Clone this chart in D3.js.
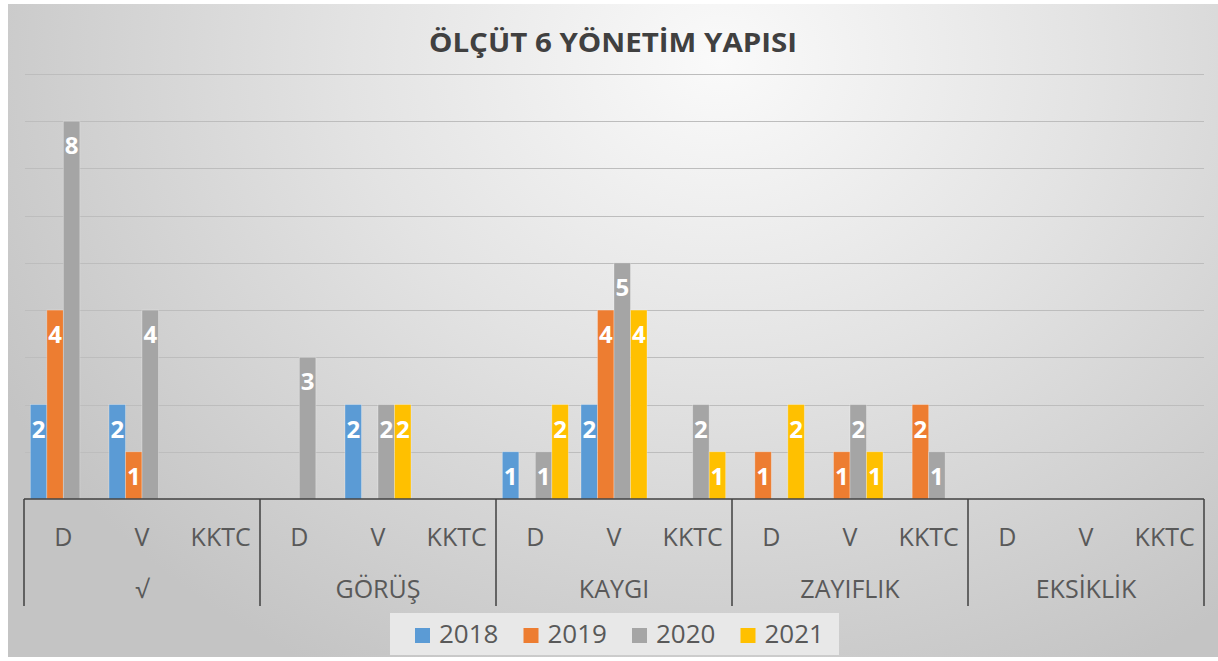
<!DOCTYPE html>
<html>
<head>
<meta charset="utf-8">
<script src="https://cdn.jsdelivr.net/npm/d3@7"></script>
<style>
    html, body { margin: 0; padding: 0; background: #fff; }
    svg { display: block; font-family: "Open Sans", sans-serif; }
</style>
</head>
<body>
<svg id="chart"></svg>
<script>
(function(){
    "use strict";

    const title = "ÖLÇÜT 6 YÖNETİM YAPISI";
    const groups = ["√", "GÖRÜŞ", "KAYGI", "ZAYIFLIK", "EKSİKLİK"];
    const subs = ["D", "V", "KKTC"];
    const years = ["2018", "2019", "2020", "2021"];
    const colors = ["#5b9bd5", "#ed7d31", "#a5a5a5", "#ffc000"];

    // one value per group/sub, in the order of groups x subs (0 = no bar)
    const v2018 = [2, 2, 0,  0, 2, 0,  1, 2, 0,  0, 0, 0,  0, 0, 0];
    const v2019 = [4, 1, 0,  0, 0, 0,  0, 4, 0,  1, 1, 2,  0, 0, 0];
    const v2020 = [8, 4, 0,  3, 2, 0,  1, 5, 2,  0, 2, 1,  0, 0, 0];
    const v2021 = [0, 0, 0,  0, 2, 0,  2, 4, 1,  2, 1, 0,  0, 0, 0];
    const series = [v2018, v2019, v2020, v2021];

    const width = 1218,
        height = 661;

    const svg = d3.select("svg#chart")
        .attr("width", width)
        .attr("height", height);

    // background
    const defs = svg.append("defs");
    const grad = defs.append("radialGradient")
        .attr("id", "bg")
        .attr("gradientUnits", "userSpaceOnUse")
        .attr("cx", 720).attr("cy", 60).attr("r", 820)
        .attr("gradientTransform", "translate(720,60) scale(1,0.85) translate(-720,-60)");
    grad.append("stop").attr("offset", "0").attr("stop-color", "#fafafa");
    grad.append("stop").attr("offset", "0.45").attr("stop-color", "#e3e3e3");
    grad.append("stop").attr("offset", "1").attr("stop-color", "#c4c4c4");

    svg.append("rect")
        .attr("x", 8).attr("y", 4)
        .attr("width", width - 8).attr("height", 653)
        .attr("fill", "url(#bg)");

    svg.append("text")
        .attr("x", 613).attr("y", 52)
        .attr("text-anchor", "middle")
        .attr("font-size", 27)
        .attr("font-weight", "bold")
        .attr("fill", "#404040")
        .attr("textLength", 368)
        .attr("lengthAdjust", "spacingAndGlyphs")
        .text(title);

    const left = 24, right = 1204, baseY = 499, topY = 74;

    const cats = [];
    groups.forEach(g => subs.forEach(s => cats.push(g + "|" + s)));

    const x0 = d3.scaleBand().domain(cats).range([left, right]);
    const x1 = d3.scaleBand().domain(years).range([0, x0.bandwidth()])
        .paddingInner(0).paddingOuter(0.384);
    const xg = d3.scaleBand().domain(groups).range([left, right]);
    const y = d3.scaleLinear().domain([0, 9]).range([baseY, topY]);

    // gridlines
    svg.append("g")
        .selectAll("line")
        .data(d3.range(1, 10))
        .join("line")
        .attr("x1", left + 1).attr("x2", right)
        .attr("y1", d => Math.round(y(d)) + 0.5)
        .attr("y2", d => Math.round(y(d)) + 0.5)
        .attr("stroke", "#bdbdbd")
        .attr("stroke-width", 1);

    // bars
    const bars = [];
    series.forEach((vals, si) => {
        vals.forEach((v, ci) => {
            if (v > 0) bars.push({ cat: cats[ci], year: years[si], value: v, color: colors[si] });
        });
    });

    const barG = svg.append("g");
    barG.selectAll("rect")
        .data(bars)
        .join("rect")
        .attr("x", d => x0(d.cat) + x1(d.year))
        .attr("y", d => y(d.value))
        .attr("width", x1.bandwidth())
        .attr("height", d => baseY - y(d.value))
        .attr("fill", d => d.color)
        .attr("stroke", "rgba(255,255,255,0.35)")
        .attr("stroke-width", 0.8);

    barG.selectAll("text")
        .data(bars)
        .join("text")
        .attr("x", d => x0(d.cat) + x1(d.year) + x1.bandwidth() / 2)
        .attr("y", d => y(d.value) + 33)
        .attr("text-anchor", "middle")
        .attr("font-size", 24)
        .attr("font-weight", "bold")
        .attr("fill", "#ffffff")
        .text(d => d.value);

    // category axis
    const axis = svg.append("g").attr("stroke", "#404040");
    axis.append("line")
        .attr("x1", left).attr("x2", right)
        .attr("y1", baseY).attr("y2", baseY)
        .attr("stroke-width", 1.5);
    axis.selectAll("line.tick")
        .data(groups.map(g => xg(g)).concat([right]))
        .join("line")
        .attr("class", "tick")
        .attr("x1", d => d).attr("x2", d => d)
        .attr("y1", baseY).attr("y2", 606)
        .attr("stroke-width", 1.5);

    svg.append("g")
        .selectAll("text")
        .data(cats)
        .join("text")
        .attr("x", d => x0(d) + x0.bandwidth() / 2)
        .attr("y", 546)
        .attr("text-anchor", "middle")
        .attr("font-size", 25)
        .attr("fill", "#595959")
        .text(d => d.split("|")[1]);

    svg.append("g")
        .selectAll("text")
        .data(groups)
        .join("text")
        .attr("x", d => xg(d) + xg.bandwidth() / 2)
        .attr("y", 598)
        .attr("text-anchor", "middle")
        .attr("font-size", 25)
        .attr("fill", "#595959")
        .text(d => d);

    // legend
    const legend = svg.append("g");
    legend.append("rect")
        .attr("x", 390).attr("y", 613)
        .attr("width", 449).attr("height", 42)
        .attr("fill", "#e8e8e8");
    const item = legend.selectAll("g")
        .data(years)
        .join("g")
        .attr("transform", (d, i) => `translate(${415 + i * 108.5}, 0)`);
    item.append("rect")
        .attr("x", 0).attr("y", 628)
        .attr("width", 15).attr("height", 15)
        .attr("fill", (d, i) => colors[i]);
    item.append("text")
        .attr("x", 24).attr("y", 643)
        .attr("font-size", 26)
        .attr("fill", "#595959")
        .text(d => d);
})();
</script>
</body>
</html>
